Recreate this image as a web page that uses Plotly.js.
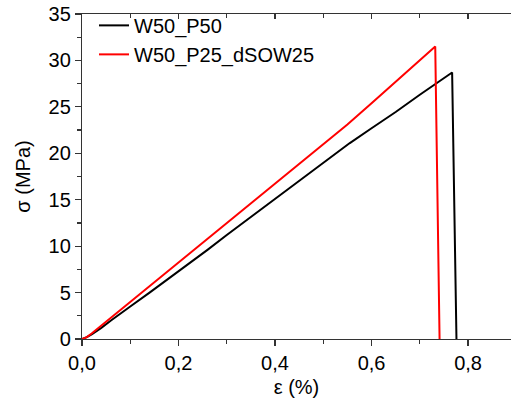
<!DOCTYPE html>
<html>
<head>
<meta charset="utf-8">
<script src="https://cdn.plot.ly/plotly-3.0.1.min.js"></script>
<style>html,body{margin:0;padding:0;background:#fff}#chart{width:511px;height:402px}</style>
</head>
<body>
<div id="chart"></div>
<script>
const seriesNames = ["W50_P50", "W50_P25_dSOW25"];
const strainA = [0, 0.01, 0.02, 0.04, 0.06, 0.08, 0.10, 0.14, 0.18, 0.22, 0.26, 0.30, 0.34, 0.38, 0.42, 0.46, 0.50, 0.52, 0.555, 0.60, 0.65, 0.70, 0.767, 0.776];
const stressA = [0, 0.2, 0.5, 1.2, 2.0, 2.8, 3.5, 5.0, 6.5, 8.0, 9.6, 11.2, 12.75, 14.3, 15.9, 17.5, 19.05, 19.8, 21.1, 22.7, 24.45, 26.3, 28.7, 0];
const strainB = [0, 0.01, 0.02, 0.04, 0.06, 0.08, 0.10, 0.14, 0.18, 0.22, 0.26, 0.30, 0.34, 0.38, 0.42, 0.46, 0.50, 0.55, 0.60, 0.65, 0.70, 0.732, 0.741];
const stressB = [0, 0.2, 0.6, 1.45, 2.3, 3.15, 4.0, 5.7, 7.4, 9.05, 10.75, 12.4, 14.1, 15.8, 17.5, 19.2, 20.9, 23.1, 25.4, 27.7, 30.0, 31.5, 0];

const font = {family: "Liberation Sans, Arial, sans-serif", size: 20, color: "#000"};
const axisCommon = {
  showgrid: false, zeroline: false, showline: true, linecolor: "#333", linewidth: 1.2,
  ticks: "outside", ticklen: 6, tickwidth: 1.2, tickcolor: "#333",
  tickfont: font
};

const traces = [
  {x: strainA, y: stressA, name: seriesNames[0], mode: "lines", line: {color: "#000", width: 2}},
  {x: strainB, y: stressB, name: seriesNames[1], mode: "lines", line: {color: "#ff0000", width: 2}},
  {x: [], y: [], xaxis: "x2", showlegend: false, hoverinfo: "skip"}
];

const layout = {
  width: 511, height: 402,
  margin: {l: 82, r: 0, t: 14, b: 63},
  paper_bgcolor: "#fff", plot_bgcolor: "#fff",
  separators: ", ",
  font: font,
  showlegend: true,
  legend: {x: 0.028, y: 1.025, xanchor: "left", yanchor: "top", bgcolor: "rgba(0,0,0,0)", font: font, tracegroupgap: 0},
  xaxis: Object.assign({}, axisCommon, {
    range: [0, 0.889], dtick: 0.2, tick0: 0, tickformat: ".1f",
    minor: {dtick: 0.1, ticks: "outside", ticklen: 4, tickcolor: "#333", tickwidth: 1.2},
    title: {text: "ε (%)", font: font, standoff: 6}
  }),
  xaxis2: {
    overlaying: "x", side: "top", matches: "x", range: [0, 0.889],
    showgrid: false, zeroline: false, showline: true, linecolor: "#333", linewidth: 1.2,
    ticks: "inside", ticklen: 5, tickwidth: 1.2, tickcolor: "#333", dtick: 0.2, tick0: 0,
    minor: {dtick: 0.1, ticks: "inside", ticklen: 4, tickcolor: "#333", tickwidth: 1.2},
    showticklabels: false
  },
  yaxis: Object.assign({}, axisCommon, {
    range: [0, 35], dtick: 5, tick0: 0,
    minor: {dtick: 2.5, ticks: "outside", ticklen: 4, tickcolor: "#333", tickwidth: 1.2},
    title: {text: "σ (MPa)", font: font, standoff: 12}
  })
};

Plotly.newPlot("chart", traces, layout, {staticPlot: true, displayModeBar: false});
</script>
</body>
</html>
